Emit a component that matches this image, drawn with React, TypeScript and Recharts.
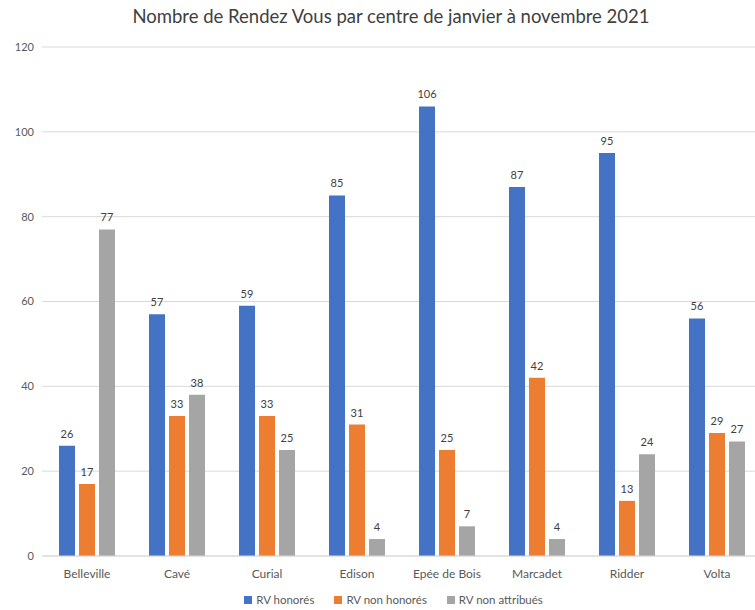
import { BarChart, Bar, XAxis, YAxis, CartesianGrid, LabelList } from "recharts";

const centres = ["Belleville", "Cavé", "Curial", "Edison", "Epée de Bois", "Marcadet", "Ridder", "Volta"];
const honores = [26, 57, 59, 85, 106, 87, 95, 56];
const nonHonores = [17, 33, 33, 31, 25, 42, 13, 29];
const nonAttribues = [77, 38, 25, 4, 7, 4, 24, 27];
const yTicks = [0, 20, 40, 60, 80, 100, 120];

const series = [
  { key: "honores", name: "RV honorés", color: "#4472C4" },
  { key: "nonHonores", name: "RV non honorés", color: "#ED7D31" },
  { key: "nonAttribues", name: "RV non attribués", color: "#A5A5A5" },
];

const FONT = "Lato, 'Open Sans', sans-serif";
const TEXT = "#595959";

const data = centres.map((c, i) => ({
  centre: c,
  honores: honores[i],
  nonHonores: nonHonores[i],
  nonAttribues: nonAttribues[i],
}));

export default function App() {
  return (
    <div
      style={{
        position: "absolute",
        left: 0,
        top: 0,
        width: 755,
        height: 610,
        overflow: "hidden",
        background: "#fff",
        fontFamily: FONT,
      }}
    >
      <div
        style={{
          position: "absolute",
          top: 5,
          left: 0,
          width: 782,
          textAlign: "center",
          fontSize: 18.5,
          color: "#404040",
        }}
      >
        Nombre de Rendez Vous par centre de janvier à novembre 2021
      </div>
      <BarChart
        width={770}
        height={610}
        data={data}
        margin={{ top: 47, right: 8, bottom: 24, left: 0 }}
        barGap={4}
        barCategoryGap="19%"
      >
        <CartesianGrid vertical={false} stroke="#d9d9d9" />
        <XAxis
          dataKey="centre"
          axisLine={{ stroke: "#d9d9d9" }}
          tickLine={false}
          tickMargin={7}
          tick={{ fontSize: 12, fill: TEXT, fontFamily: FONT }}
          height={30}
        />
        <YAxis
          width={42}
          domain={[0, 120]}
          ticks={yTicks}
          axisLine={false}
          tickLine={false}
          tick={{ fontSize: 11, fill: TEXT, fontFamily: FONT }}
        />
        {series.map((s) => (
          <Bar key={s.key} dataKey={s.key} name={s.name} fill={s.color} barSize={16} isAnimationActive={false}>
            <LabelList dataKey={s.key} position="top" offset={8} fill="#404040" fontSize={11} fontFamily={FONT} />
          </Bar>
        ))}
      </BarChart>
      <div
        style={{
          position: "absolute",
          top: 593,
          left: 0,
          width: 787,
          display: "flex",
          justifyContent: "center",
          gap: 20,
          fontSize: 11.5,
          color: TEXT,
        }}
      >
        {series.map((s) => (
          <span key={s.key} style={{ display: "flex", alignItems: "center", gap: 4 }}>
            <span style={{ width: 8, height: 8, background: s.color, display: "inline-block" }} />
            {s.name}
          </span>
        ))}
      </div>
    </div>
  );
}
